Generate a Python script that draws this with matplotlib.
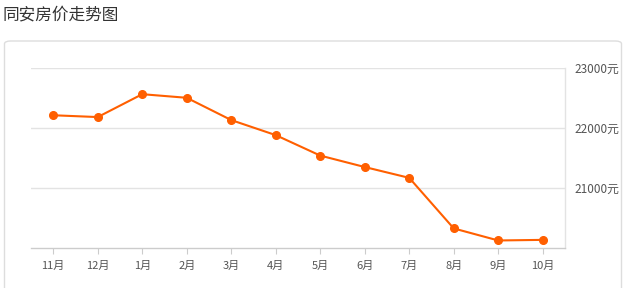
import matplotlib
matplotlib.use("Agg")
import matplotlib.pyplot as plt
from matplotlib.patches import FancyBboxPatch

plt.rcParams['font.family'] = ['Noto Sans CJK SC', 'DejaVu Sans']

months = ['11月', '12月', '1月', '2月', '3月', '4月', '5月', '6月', '7月', '8月', '9月', '10月']
prices = [22210, 22180, 22560, 22500, 22130, 21880, 21540, 21350, 21170, 20330, 20130, 20140]
y_ticks = [21000, 22000, 23000]

W, H = 625, 288
fig = plt.figure(figsize=(W / 100, H / 100), dpi=100)

# title
fig.text(3 / W, 1 - 15 / H, '同安房价走势图', fontsize=12, color='#333333', va='center', ha='left')

# outer panel box
box = FancyBboxPatch((4.5 / W, -0.1), (W - 8) / W, 1 - 41 / H + 0.1,
                     boxstyle='round,pad=0,rounding_size=0.01',
                     transform=fig.transFigure, facecolor='white',
                     edgecolor='#dddddd', linewidth=1.0, zorder=-5)
fig.patches.append(box)

ax = fig.add_axes([31 / W, 1 - 248.3 / H, (565 - 31) / W, (248.3 - 67.7) / H])
ax.set_zorder(5)
ax.set_facecolor('none')

x = range(len(months))
ax.plot(x, prices, color='#ff5f00', linewidth=1.5, marker='o', markersize=5.5, zorder=3)

ax.set_xlim(-0.5, len(months) - 0.5)
ax.set_ylim(20000, 23000)

ax.set_yticks(y_ticks)
ax.set_yticklabels([f'{v}元' for v in y_ticks])
ax.yaxis.tick_right()
ax.tick_params(axis='y', length=0, pad=6.5, labelsize=8.5, labelcolor='#555555')
ax.grid(axis='y', color='#e3e3e3', linewidth=1)

ax.set_xticks(list(x))
ax.set_xticklabels(months)
ax.tick_params(axis='x', length=4, width=0.8, color='#cccccc', pad=5, labelsize=8, labelcolor='#555555')

for side in ['top', 'left']:
    ax.spines[side].set_visible(False)
ax.spines['bottom'].set_color('#cccccc')
ax.spines['right'].set_color('#e3e3e3')
ax.spines['bottom'].set_linewidth(1)
ax.spines['right'].set_linewidth(1)
ax.set_axisbelow(True)

fig.savefig('out.png', dpi=100)
